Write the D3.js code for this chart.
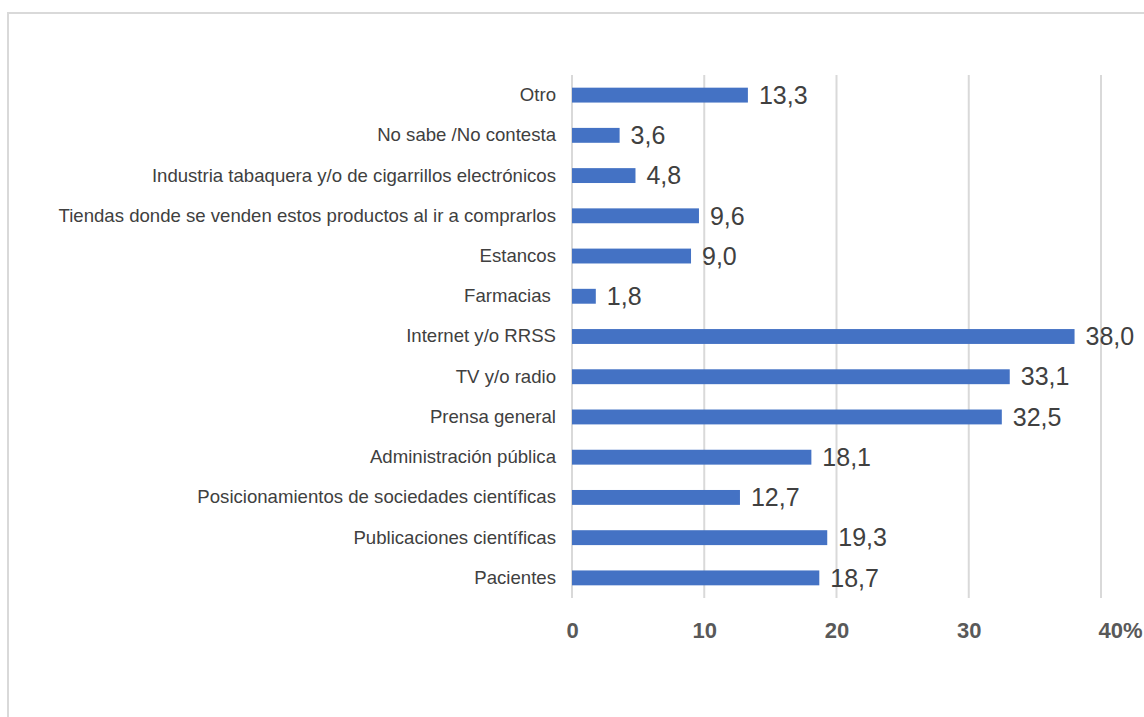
<!DOCTYPE html>
<html>
<head>
<meta charset="utf-8">
<script src="https://cdn.jsdelivr.net/npm/d3@7"></script>
<style>
  body { margin: 0; background: #fff; }
  svg { display: block; font-family: "Liberation Sans", Arial, sans-serif; }
</style>
</head>
<body>
<script>
const svgWidth = 1144
const svgHeight = 717

// categories listed top to bottom
const categories = [
  "Otro",
  "No sabe /No contesta",
  "Industria tabaquera y/o de cigarrillos electrónicos",
  "Tiendas donde se venden estos productos al ir a comprarlos",
  "Estancos",
  "Farmacias ",
  "Internet y/o RRSS",
  "TV y/o radio",
  "Prensa general",
  "Administración pública",
  "Posicionamientos de sociedades científicas",
  "Publicaciones científicas",
  "Pacientes"
]
const values = [13.3, 3.6, 4.8, 9.6, 9.0, 1.8, 38.0, 33.1, 32.5, 18.1, 12.7, 19.3, 18.7]
const xTicks = [0, 10, 20, 30, 40]

const margin = { top: 75, right: 43, bottom: 119, left: 572 }
const chartWidth = svgWidth - margin.left - margin.right
const chartHeight = svgHeight - margin.top - margin.bottom

const data = categories.map((c, i) => ({ cat: c, val: values[i] }))

const svg = d3.select("body").append("svg")
  .attr("width", svgWidth)
  .attr("height", svgHeight)

// outer frame (only top and left edges visible)
svg.append("rect")
  .attr("x", 8).attr("y", 13)
  .attr("width", 1400).attr("height", 1000)
  .attr("fill", "none")
  .attr("stroke", "#d9d9d9")
  .attr("stroke-width", 2)

const chartG = svg.append("g")
  .attr("transform", `translate(${margin.left}, ${margin.top})`)

const x = d3.scaleLinear()
  .domain([0, 40])
  .range([0, chartWidth])

const y = d3.scaleBand()
  .domain(categories)
  .range([0, chartHeight])
  .paddingInner(0.63)
  .paddingOuter(0.315)

// gridlines
chartG.append("g")
  .selectAll("line")
  .data(xTicks)
  .join("line")
  .attr("x1", d => x(d)).attr("x2", d => x(d))
  .attr("y1", 0).attr("y2", chartHeight)
  .attr("stroke", "#d9d9d9")
  .attr("stroke-width", 2)

// x axis labels
const xAxis = d3.axisBottom(x)
  .tickValues(xTicks)
  .tickSize(0)
  .tickPadding(24)
  .tickFormat(d => d === 40 ? "40%" : d)

const xG = chartG.append("g")
  .attr("transform", `translate(0, ${chartHeight})`)
  .call(xAxis)
xG.select(".domain").remove()
xG.selectAll("text")
  .attr("fill", "#595959")
  .attr("font-size", 22)
  .attr("font-weight", "bold")
  .attr("font-family", "Liberation Sans, Arial, sans-serif")
xG.selectAll(".tick").filter(d => d === 40).select("text")
  .attr("text-anchor", "start")
  .attr("dx", -3)

// y axis labels
const yAxis = d3.axisLeft(y).tickSize(0).tickPadding(16)
const yG = chartG.append("g").call(yAxis)
yG.select(".domain").remove()
yG.selectAll("text")
  .attr("fill", "#404040")
  .attr("font-size", 18.6)
  .attr("font-family", "Liberation Sans, Arial, sans-serif")
  .style("white-space", "pre")

// bars
chartG.selectAll("rect.bar")
  .data(data)
  .join("rect")
  .attr("class", "bar")
  .attr("x", x(0))
  .attr("y", d => y(d.cat))
  .attr("width", d => x(d.val) - x(0))
  .attr("height", y.bandwidth())
  .attr("fill", "#4472C4")

// value labels
chartG.selectAll("text.val")
  .data(data)
  .join("text")
  .attr("class", "val")
  .attr("x", d => x(d.val) + 11)
  .attr("y", d => y(d.cat) + y.bandwidth() / 2)
  .attr("dy", "0.35em")
  .attr("fill", "#404040")
  .attr("font-size", 25)
  .text(d => d3.format(".1f")(d.val).replace(".", ","))
</script>
</body>
</html>
